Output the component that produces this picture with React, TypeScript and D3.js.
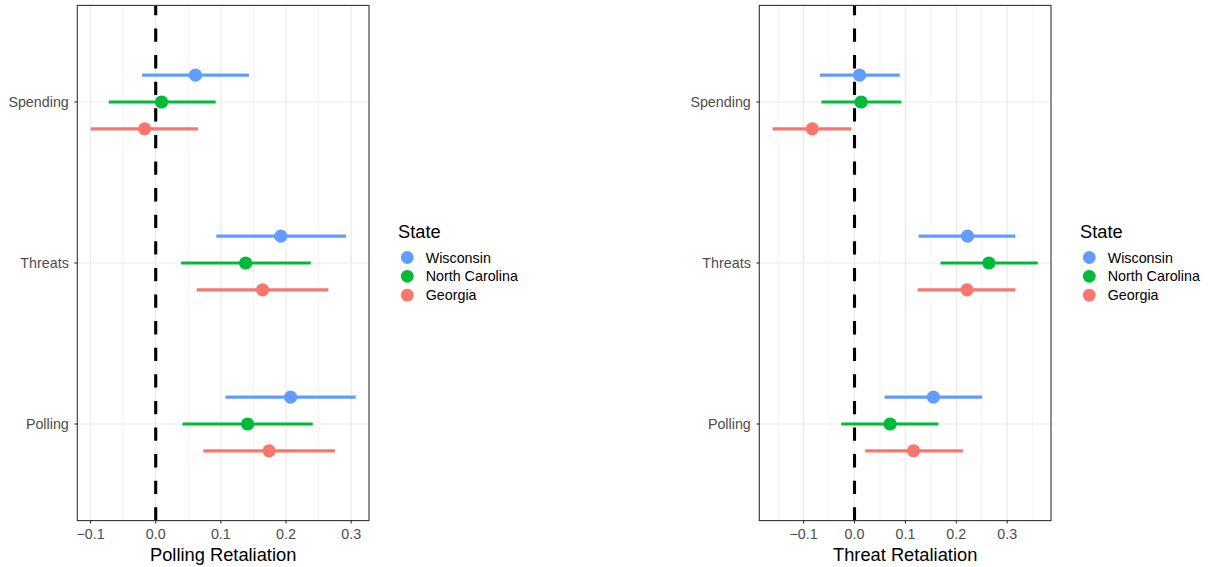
import React from "react";
import * as d3 from "d3";

const categories = ["Spending", "Threats", "Polling"];
const states = ["Wisconsin", "North Carolina", "Georgia"];
const stateColors = ["#619CFF", "#00BA38", "#F8766D"];

// rows: states (Wisconsin, North Carolina, Georgia); columns: categories (Spending, Threats, Polling)
const pollingEst = [
  [0.061, 0.192, 0.207],
  [0.009, 0.138, 0.141],
  [-0.017, 0.164, 0.174],
];
const pollingLow = [
  [-0.021, 0.093, 0.107],
  [-0.072, 0.039, 0.041],
  [-0.1, 0.063, 0.073],
];
const pollingHigh = [
  [0.143, 0.292, 0.307],
  [0.092, 0.238, 0.241],
  [0.065, 0.265, 0.275],
];

const threatEst = [
  [0.01, 0.222, 0.155],
  [0.013, 0.264, 0.07],
  [-0.083, 0.221, 0.116],
];
const threatLow = [
  [-0.068, 0.126, 0.059],
  [-0.065, 0.169, -0.026],
  [-0.161, 0.124, 0.021],
];
const threatHigh = [
  [0.089, 0.316, 0.251],
  [0.092, 0.36, 0.165],
  [-0.006, 0.316, 0.213],
];

const xTicks = [-0.1, 0, 0.1, 0.2, 0.3];
const xTickLabels = ["\u22120.1", "0.0", "0.1", "0.2", "0.3"];
const legendTitle = "State";

const FONT = "'Liberation Sans', Arial, Helvetica, sans-serif";
const TICK_SIZE = 14.3;
const TITLE_SIZE = 18.3;

type PanelProps = {
  offsetX: number;
  title: string;
  est: number[][];
  low: number[][];
  high: number[][];
};

function Panel({ offsetX, title, est, low, high }: PanelProps) {
  const left = 77.3 + offsetX;
  const right = 369 + offsetX;
  const top = 5.4;
  const bottom = 520.6;

  const allVals = [...low.flat(), ...high.flat()];
  const mn = d3.min(allVals) as number;
  const mx = d3.max(allVals) as number;
  const pad = (mx - mn) * 0.05;
  const x = d3.scaleLinear().domain([mn - pad, mx + pad]).range([left, right]);
  const y = d3.scalePoint<string>().domain(categories).range([top, bottom]).padding(0.6);
  const step = y.step();
  const dodge = (i: number) => (i - 1) * step * (0.5 / 3);

  const [d0, d1] = x.domain();
  const majors = xTicks.filter((t) => t >= d0 && t <= d1);
  const minors: number[] = [];
  for (let v = Math.ceil(d0 / 0.05) * 0.05; v <= d1; v += 0.05) {
    const r = Math.round(v * 100) / 100;
    if (Math.abs(Math.round(r * 10) / 10 - r) > 1e-6) minors.push(r);
  }

  const cx = (left + right) / 2;

  return (
    <g>
      <rect x={left} y={top} width={right - left} height={bottom - top} fill="#FFFFFF" />
      {minors.map((m) => (
        <line key={"mi" + m} x1={x(m)} x2={x(m)} y1={top} y2={bottom} stroke="#EBEBEB" strokeWidth={0.6} />
      ))}
      {majors.map((m) => (
        <line key={"ma" + m} x1={x(m)} x2={x(m)} y1={top} y2={bottom} stroke="#EBEBEB" strokeWidth={1.2} />
      ))}
      {categories.map((c) => (
        <line key={"hy" + c} x1={left} x2={right} y1={y(c)} y2={y(c)} stroke="#EBEBEB" strokeWidth={1.2} />
      ))}
      {states.map((s, si) =>
        categories.map((c, ci) => {
          const yy = (y(c) as number) + dodge(si);
          return (
            <g key={s + c}>
              <line
                x1={x(low[si][ci])}
                x2={x(high[si][ci])}
                y1={yy}
                y2={yy}
                stroke={stateColors[si]}
                strokeWidth={3.1}
              />
              <circle cx={x(est[si][ci])} cy={yy} r={6.6} fill={stateColors[si]} />
            </g>
          );
        })
      )}
      <line
        x1={x(0)}
        x2={x(0)}
        y1={bottom}
        y2={top}
        stroke="#000000"
        strokeWidth={3.1}
        strokeDasharray="13.3 13.3"
      />
      <rect x={left} y={top} width={right - left} height={bottom - top} fill="none" stroke="#333333" strokeWidth={1.1} />
      {categories.map((c) => (
        <g key={"yt" + c}>
          <line x1={left - 2.9} x2={left} y1={y(c)} y2={y(c)} stroke="#333333" strokeWidth={1.1} />
          <text
            x={left - 8.5}
            y={y(c)}
            dy="0.35em"
            textAnchor="end"
            fontFamily={FONT}
            fontSize={TICK_SIZE}
            fill="#4D4D4D"
          >
            {c}
          </text>
        </g>
      ))}
      {majors.map((m) => (
        <g key={"xt" + m}>
          <line x1={x(m)} x2={x(m)} y1={bottom} y2={bottom + 2.9} stroke="#333333" strokeWidth={1.1} />
          <text
            x={x(m)}
            y={538.5}
            textAnchor="middle"
            fontFamily={FONT}
            fontSize={TICK_SIZE}
            fill="#4D4D4D"
          >
            {xTickLabels[xTicks.indexOf(m)]}
          </text>
        </g>
      ))}
      <text x={cx} y={561} textAnchor="middle" fontFamily={FONT} fontSize={TITLE_SIZE} fill="#000000">
        {title}
      </text>
      <g>
        <text x={398 + offsetX} y={238} fontFamily={FONT} fontSize={TITLE_SIZE} fill="#000000">
          {legendTitle}
        </text>
        {states.map((s, si) => (
          <g key={"lg" + s}>
            <circle cx={407.3 + offsetX} cy={257.5 + si * 18.8} r={6.4} fill={stateColors[si]} />
            <text
              x={425.7 + offsetX}
              y={257.5 + si * 18.8}
              dy="0.35em"
              fontFamily={FONT}
              fontSize={TICK_SIZE}
              fill="#000000"
            >
              {s}
            </text>
          </g>
        ))}
      </g>
    </g>
  );
}

export default function App() {
  return (
    <svg
      width={1209}
      height={567}
      style={{ position: "absolute", left: 0, top: 0, background: "#FFFFFF" }}
    >
      <rect x={0} y={0} width={1209} height={567} fill="#FFFFFF" />
      <Panel offsetX={0} title="Polling Retaliation" est={pollingEst} low={pollingLow} high={pollingHigh} />
      <Panel offsetX={682} title="Threat Retaliation" est={threatEst} low={threatLow} high={threatHigh} />
    </svg>
  );
}
